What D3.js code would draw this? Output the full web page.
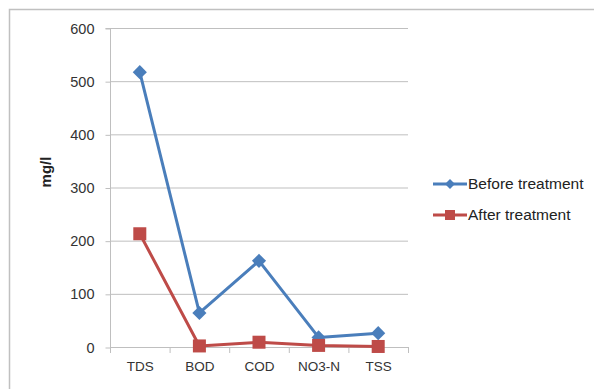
<!DOCTYPE html>
<html><head><meta charset="utf-8">
<script src="https://cdn.jsdelivr.net/npm/d3@7"></script>
<style>body{margin:0;background:#fff}svg{display:block}</style>
</head><body>
<script>
const categories = ["TDS","BOD","COD","NO3-N","TSS"];
const beforeValues = [517, 64, 162, 18, 26];
const afterValues = [213, 2, 9, 3, 1];
const yTicks = [0,100,200,300,400,500,600];
const seriesNames = ["Before treatment","After treatment"];
const colors = ["#4a7ebb","#be4b48"];

const W=594,H=389;
const svg=d3.select("body").append("svg").attr("width",W).attr("height",H);
svg.append("path").attr("d","M9.5,389 V9.5 H594").attr("fill","none").attr("stroke","#c0c0c0").attr("stroke-width",1.5);

const x0=110,x1=408,yTop=28,yBot=347;
const x=d3.scaleBand().domain(categories).range([x0,x1]);
const y=d3.scaleLinear().domain([0,600]).range([yBot,yTop]);
const font="'Liberation Sans', Arial, sans-serif";

svg.append("g").selectAll("line").data(yTicks.filter(d=>d>0)).join("line")
 .attr("x1",x0).attr("x2",x1).attr("y1",d=>y(d)+0.5).attr("y2",d=>y(d)+0.5)
 .attr("stroke","#bfbfbf").attr("stroke-width",1);

const yAxis=svg.append("g").attr("transform",`translate(${x0+0.5},0.5)`)
 .call(d3.axisLeft(y).tickValues(yTicks).tickSize(5).tickPadding(11));
yAxis.select(".domain").attr("stroke","#bfbfbf").attr("d",`M-5,${yTop}H0V${yBot}`);
yAxis.selectAll(".tick line").attr("stroke","#bfbfbf");
yAxis.selectAll("text").attr("font-family",font).attr("font-size",14.5).attr("fill","#333");

const xAxis=svg.append("g").attr("transform",`translate(0.5,${yBot+0.5})`)
 .call(d3.axisBottom(x).tickSize(0).tickPadding(14));
xAxis.select(".domain").attr("stroke","#bfbfbf").attr("d",`M${x0},0H${x1}`);
xAxis.selectAll("text").attr("font-family",font).attr("font-size",13.5).attr("fill","#333");
svg.append("g").selectAll("line").data(d3.range(categories.length+1)).join("line")
 .attr("x1",i=>x0+i*x.step()+0.5).attr("x2",i=>x0+i*x.step()+0.5)
 .attr("y1",yBot).attr("y2",yBot+6).attr("stroke","#bfbfbf");

svg.append("text").attr("transform",`translate(51,172) rotate(-90)`).attr("text-anchor","middle")
 .attr("font-family",font).attr("font-size",15).attr("font-weight","bold").attr("fill","#222").text("mg/l");

const cx=d=>x(d)+x.bandwidth()/2;
const line=d3.line().x(d=>cx(d[0])).y(d=>y(d[1]));
const series=[beforeValues,afterValues];
series.forEach((vals,si)=>{
  const pts=categories.map((c,i)=>[c,vals[i]]);
  svg.append("path").datum(pts).attr("d",line).attr("fill","none").attr("stroke",colors[si]).attr("stroke-width",3).attr("stroke-linejoin","round");
  const g=svg.append("g");
  if(si===0){
    g.selectAll("rect").data(pts).join("rect").attr("x",-5).attr("y",-5).attr("width",10).attr("height",10)
     .attr("transform",d=>`translate(${cx(d[0])},${y(d[1])}) rotate(45)`).attr("fill",colors[si]);
  } else {
    g.selectAll("rect").data(pts).join("rect").attr("x",d=>cx(d[0])-6.5).attr("y",d=>y(d[1])-6.5)
     .attr("width",13).attr("height",13).attr("fill",colors[si]);
  }
});

const leg=svg.append("g");
const ly=[184,215];
seriesNames.forEach((n,i)=>{
  leg.append("line").attr("x1",433).attr("x2",467).attr("y1",ly[i]).attr("y2",ly[i]).attr("stroke",colors[i]).attr("stroke-width",3);
  if(i===0) leg.append("rect").attr("x",-3.5).attr("y",-3.5).attr("width",7).attr("height",7).attr("transform",`translate(450,${ly[i]}) rotate(45)`).attr("fill",colors[i]);
  else leg.append("rect").attr("x",445).attr("y",ly[i]-5).attr("width",10).attr("height",10).attr("fill",colors[i]);
  leg.append("text").attr("x",468).attr("y",ly[i]).attr("dy","0.35em").attr("font-family",font).attr("font-size",15.5).attr("fill","#222").text(n);
});
</script>
</body></html>
